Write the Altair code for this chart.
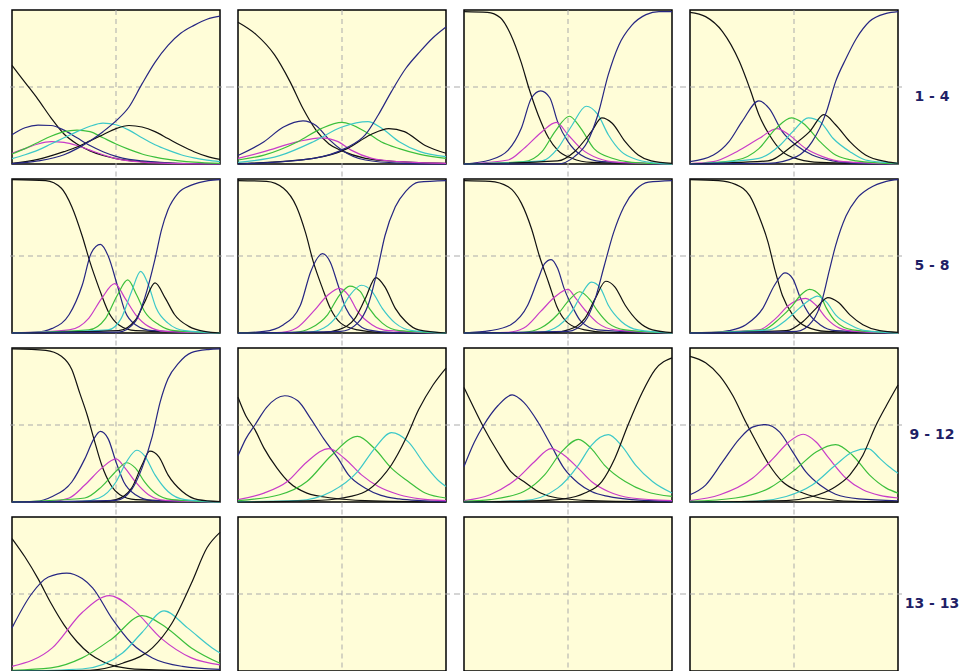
import altair as alt
import pandas as pd

# ---------------- data (theta in [-4, 4], probability in [0, 1]) ----------------
ITEM_01 = [
    ([-4, -3.5, -3, -2.5, -2, -1.5, -1, -0.5, 0, 1, 2, 4],
     [0.64, 0.53, 0.42, 0.30, 0.195, 0.13, 0.085, 0.055, 0.035, 0.015, 0.006, 0.0]),
    ([-4, -3.5, -3, -2.5, -2, -1.5, -1, -0.5, 0, 0.5, 1, 2, 4],
     [0.19, 0.235, 0.252, 0.25, 0.22, 0.17, 0.12, 0.08, 0.05, 0.03, 0.02, 0.008, 0.0]),
    ([-4, -3.5, -3, -2.5, -2, -1.5, -1, -0.5, 0, 0.5, 1, 2, 4],
     [0.07, 0.10, 0.13, 0.145, 0.14, 0.12, 0.09, 0.06, 0.035, 0.02, 0.012, 0.004, 0.0]),
    ([-4, -3.5, -3, -2.5, -2, -1.5, -1, -0.5, 0, 0.5, 1, 1.5, 2, 3, 4],
     [0.065, 0.10, 0.14, 0.18, 0.21, 0.22, 0.21, 0.17, 0.13, 0.095, 0.065, 0.045, 0.03, 0.012, 0.004]),
    ([-4, -3.5, -3, -2.5, -2, -1.5, -1, -0.5, 0, 0.5, 1, 1.5, 2, 2.5, 3, 3.5, 4],
     [0.035, 0.06, 0.09, 0.13, 0.17, 0.21, 0.245, 0.265, 0.255, 0.22, 0.17, 0.125, 0.09, 0.06, 0.04, 0.025, 0.015]),
    ([-4, -3, -2, -1.5, -1, -0.5, 0, 0.5, 1, 1.5, 2, 2.5, 3, 3.5, 4],
     [0.005, 0.03, 0.08, 0.11, 0.15, 0.19, 0.23, 0.25, 0.24, 0.21, 0.165, 0.12, 0.08, 0.05, 0.03]),
    ([-4, -3, -2, -1.5, -1, -0.5, 0, 0.5, 1, 1.5, 2, 2.5, 3, 3.5, 4],
     [0.003, 0.02, 0.06, 0.10, 0.15, 0.21, 0.28, 0.37, 0.52, 0.66, 0.77, 0.85, 0.90, 0.94, 0.96]),
]

ITEM_02 = [
    ([-4, -3.3, -2.6, -2, -1.5, -1, -0.5, 0, 0.9, 2.2, 4],
     [0.92, 0.84, 0.71, 0.535, 0.36, 0.22, 0.13, 0.085, 0.037, 0.015, 0.004]),
    ([-4, -3, -2.25, -1.5, -1, -0.5, 0, 0.9, 2.2, 4],
     [0.055, 0.145, 0.24, 0.28, 0.25, 0.16, 0.09, 0.026, 0.006, 0.0]),
    ([-4, -3, -1.7, -0.8, -0.15, 0.35, 1.15, 2.2, 4],
     [0.037, 0.08, 0.145, 0.17, 0.145, 0.09, 0.037, 0.015, 0.004]),
    ([-4, -3, -1.7, -0.8, 0, 0.9, 1.5, 2.2, 3, 4],
     [0.026, 0.058, 0.145, 0.23, 0.27, 0.21, 0.145, 0.10, 0.063, 0.037]),
    ([-4, -2.4, -1.1, 0, 1, 1.5, 2.2, 3, 4],
     [0.01, 0.054, 0.145, 0.24, 0.275, 0.235, 0.145, 0.08, 0.048]),
    ([-4, -1.1, 0.2, 1.1, 1.8, 2.4, 3.2, 4],
     [0.002, 0.037, 0.10, 0.19, 0.23, 0.21, 0.12, 0.07]),
    ([-4, -1.1, 0.1, 0.9, 1.4, 1.9, 2.45, 3, 3.5, 4],
     [0.0, 0.037, 0.10, 0.19, 0.32, 0.47, 0.62, 0.73, 0.82, 0.89]),
]

ITEM_03 = [
    ([-4, -3.1, -2.6, -2.2, -1.8, -1.5, -1.15, -0.75, -0.4, 0.15, 0.9, 4],
     [0.99, 0.985, 0.95, 0.84, 0.66, 0.49, 0.32, 0.17, 0.09, 0.037, 0.01, 0.0]),
    ([-4, -3, -2.3, -1.8, -1.4, -1.05, -0.7, -0.4, 0, 0.5, 1.3, 4],
     [0.0, 0.026, 0.09, 0.23, 0.43, 0.475, 0.43, 0.275, 0.145, 0.058, 0.015, 0.0]),
    ([-4, -2.3, -1.7, -1.0, -0.45, 0, 0.5, 1.15, 1.95, 4],
     [0.0, 0.026, 0.10, 0.21, 0.27, 0.19, 0.10, 0.037, 0.01, 0.0]),
    ([-4, -1.7, -1.0, -0.5, 0.05, 0.5, 1.0, 1.7, 2.45, 4],
     [0.0, 0.015, 0.08, 0.21, 0.31, 0.23, 0.10, 0.037, 0.01, 0.0]),
    ([-4, -1, -0.4, 0.15, 0.7, 1.15, 1.55, 2.05, 2.7, 3.5, 4],
     [0.0, 0.02, 0.10, 0.25, 0.375, 0.32, 0.19, 0.08, 0.026, 0.004, 0.0]),
    ([-4, -0.4, 0.25, 0.9, 1.3, 1.7, 2.2, 2.7, 3.2, 4],
     [0.0, 0.02, 0.08, 0.21, 0.30, 0.265, 0.145, 0.058, 0.02, 0.004]),
    ([-4, -0.4, 0.25, 0.75, 1.15, 1.55, 1.95, 2.45, 3, 3.5, 4],
     [0.0, 0.0, 0.048, 0.145, 0.32, 0.58, 0.77, 0.90, 0.97, 0.99, 0.99]),
]

ITEM_04 = [
    ([-4, -3.4, -2.75, -2.1, -1.7, -1.35, -0.95, -0.45, 0.2, 1, 4],
     [0.985, 0.957, 0.86, 0.665, 0.49, 0.32, 0.19, 0.08, 0.03, 0.01, 0.0]),
    ([-4, -3.1, -2.5, -2, -1.35, -0.95, -0.45, 0.1, 0.7, 1.5, 2.5, 4],
     [0.015, 0.058, 0.145, 0.275, 0.41, 0.36, 0.21, 0.12, 0.058, 0.02, 0.004, 0.0]),
    ([-4, -3.1, -2.2, -1.35, -0.65, -0.2, 0.45, 1.1, 1.9, 4],
     [0.002, 0.015, 0.08, 0.165, 0.23, 0.19, 0.10, 0.048, 0.015, 0.0]),
    ([-4, -2.2, -1.35, -0.7, -0.1, 0.35, 1, 1.6, 2.4, 4],
     [0.0, 0.026, 0.10, 0.23, 0.30, 0.265, 0.145, 0.058, 0.02, 0.0]),
    ([-4, -1.35, -0.55, -0.05, 0.55, 1, 1.5, 2.15, 2.75, 3.55, 4],
     [0.0, 0.037, 0.12, 0.21, 0.30, 0.275, 0.167, 0.08, 0.026, 0.01, 0.005]),
    ([-4, -1, -0.05, 0.6, 1.15, 1.6, 2.15, 2.75, 3.55, 4],
     [0.0, 0.02, 0.12, 0.21, 0.32, 0.255, 0.145, 0.058, 0.015, 0.005]),
    ([-4, -1, 0.1, 0.7, 1.25, 1.6, 2, 2.4, 2.9, 3.55, 4],
     [0.0, 0.004, 0.048, 0.145, 0.34, 0.535, 0.685, 0.815, 0.925, 0.978, 0.99]),
]

ITEM_05 = [
    ([-4, -2.7, -2.1, -1.7, -1.3, -1.0, -0.65, -0.3, 0.1, 0.75, 4],
     [0.996, 0.99, 0.94, 0.82, 0.63, 0.46, 0.29, 0.14, 0.054, 0.015, 0.0]),
    ([-4, -3.1, -2.45, -1.8, -1.3, -0.95, -0.6, -0.3, 0.05, 0.35, 0.75, 1.4, 4],
     [0.0, 0.004, 0.03, 0.12, 0.31, 0.52, 0.575, 0.50, 0.31, 0.14, 0.054, 0.015, 0.0]),
    ([-4, -1.8, -1.05, -0.55, -0.05, 0.35, 0.75, 1.25, 1.9, 4],
     [0.0, 0.02, 0.095, 0.225, 0.32, 0.225, 0.12, 0.043, 0.01, 0.0]),
    ([-4, -1.05, -0.4, 0.05, 0.45, 0.8, 1.1, 1.65, 2.25, 4],
     [0.0, 0.02, 0.095, 0.245, 0.345, 0.245, 0.14, 0.054, 0.015, 0.0]),
    ([-4, -0.3, 0.2, 0.6, 0.95, 1.25, 1.55, 2, 2.65, 4],
     [0.0, 0.02, 0.095, 0.27, 0.40, 0.31, 0.16, 0.064, 0.015, 0.0]),
    ([-4, 0.1, 0.75, 1.1, 1.5, 1.9, 2.25, 2.8, 3.4, 4],
     [0.0, 0.015, 0.085, 0.20, 0.325, 0.225, 0.12, 0.043, 0.01, 0.0]),
    ([-4, 0.1, 0.75, 1.1, 1.5, 1.75, 2, 2.4, 2.9, 3.55, 4],
     [0.0, 0.006, 0.075, 0.225, 0.48, 0.67, 0.80, 0.91, 0.96, 0.99, 0.996]),
]

ITEM_06 = [
    ([-4, -2.9, -2.25, -1.75, -1.4, -1.1, -0.75, -0.45, -0.05, 0.6, 1.5, 4],
     [0.99, 0.985, 0.94, 0.82, 0.65, 0.46, 0.29, 0.16, 0.064, 0.02, 0.004, 0.0]),
    ([-4, -3, -2.25, -1.6, -1.2, -0.75, -0.45, -0.15, 0.15, 0.5, 1, 2, 4],
     [0.0, 0.01, 0.054, 0.18, 0.40, 0.515, 0.46, 0.31, 0.16, 0.075, 0.02, 0.002, 0.0]),
    ([-4, -2.3, -1.75, -1.1, -0.55, -0.1, 0.25, 0.6, 1.15, 1.8, 4],
     [0.0, 0.005, 0.032, 0.14, 0.245, 0.29, 0.245, 0.14, 0.054, 0.015, 0.0]),
    ([-4, -1.8, -1.2, -0.55, -0.1, 0.3, 0.7, 1.05, 1.55, 2.2, 4],
     [0.0, 0.005, 0.032, 0.12, 0.245, 0.305, 0.27, 0.16, 0.064, 0.015, 0.0]),
    ([-4, -1.3, -0.7, -0.15, 0.3, 0.75, 1.15, 1.55, 2.05, 2.7, 4],
     [0.0, 0.005, 0.032, 0.12, 0.245, 0.31, 0.27, 0.16, 0.064, 0.015, 0.0]),
    ([-4, -0.7, -0.15, 0.5, 0.9, 1.3, 1.65, 2.05, 2.45, 2.95, 4],
     [0.0, 0.004, 0.02, 0.095, 0.225, 0.36, 0.30, 0.16, 0.075, 0.02, 0.0]),
    ([-4, -0.05, 0.6, 1, 1.35, 1.65, 2.05, 2.45, 2.95, 4],
     [0.0, 0.01, 0.064, 0.18, 0.40, 0.63, 0.82, 0.92, 0.98, 0.99]),
]

ITEM_07 = [
    ([-4, -3, -2.3, -1.8, -1.4, -1.1, -0.75, -0.4, 0, 0.65, 1.5, 4],
     [0.99, 0.985, 0.95, 0.845, 0.675, 0.50, 0.33, 0.16, 0.064, 0.02, 0.004, 0.0]),
    ([-4, -3, -2.2, -1.55, -1.15, -0.9, -0.65, -0.4, -0.15, 0.2, 0.5, 1.15, 4],
     [0.0, 0.015, 0.054, 0.18, 0.35, 0.45, 0.477, 0.42, 0.29, 0.16, 0.075, 0.02, 0.0]),
    ([-4, -2.3, -1.7, -1.05, -0.5, 0, 0.3, 0.7, 1.15, 1.8, 4],
     [0.0, 0.005, 0.032, 0.14, 0.235, 0.283, 0.225, 0.14, 0.064, 0.02, 0.0]),
    ([-4, -1.7, -1.05, -0.4, 0.05, 0.45, 0.85, 1.15, 1.55, 2.2, 4],
     [0.0, 0.005, 0.032, 0.12, 0.215, 0.268, 0.215, 0.14, 0.064, 0.02, 0.0]),
    ([-4, -1.1, -0.5, 0.15, 0.5, 0.9, 1.25, 1.55, 2.05, 2.7, 4],
     [0.0, 0.004, 0.032, 0.14, 0.245, 0.33, 0.29, 0.18, 0.075, 0.02, 0.0]),
    ([-4, -0.5, 0, 0.65, 1.05, 1.45, 1.8, 2.2, 2.7, 3.25, 4],
     [0.0, 0.004, 0.02, 0.095, 0.225, 0.336, 0.30, 0.18, 0.075, 0.02, 0.002]),
    ([-4, 0, 0.65, 1.05, 1.4, 1.75, 2.15, 2.6, 3.1, 4],
     [0.0, 0.01, 0.075, 0.225, 0.44, 0.65, 0.82, 0.93, 0.98, 0.99]),
]

ITEM_08 = [
    ([-4, -2.9, -2.25, -1.7, -1.35, -1.0, -0.75, -0.45, -0.05, 0.45, 1.25, 4],
     [0.996, 0.99, 0.965, 0.89, 0.76, 0.59, 0.42, 0.245, 0.118, 0.043, 0.01, 0.0]),
    ([-4, -3, -2.5, -1.85, -1.2, -0.75, -0.35, -0.05, 0.25, 0.6, 1, 1.6, 4],
     [0.0, 0.004, 0.015, 0.054, 0.16, 0.31, 0.39, 0.353, 0.225, 0.118, 0.054, 0.015, 0.0]),
    ([-4, -1.35, -0.7, -0.2, 0.45, 0.85, 1.25, 1.75, 2.4, 4],
     [0.0, 0.02, 0.095, 0.18, 0.225, 0.18, 0.095, 0.032, 0.01, 0.0]),
    ([-4, -1.2, -0.55, -0.05, 0.25, 0.6, 1, 1.25, 1.6, 2.25, 4],
     [0.0, 0.02, 0.095, 0.18, 0.245, 0.283, 0.245, 0.16, 0.075, 0.02, 0.0]),
    ([-4, -0.95, -0.3, 0.2, 0.6, 0.9, 1.25, 1.6, 2.15, 2.75, 4],
     [0.0, 0.02, 0.085, 0.16, 0.215, 0.24, 0.20, 0.118, 0.054, 0.015, 0.0]),
    ([-4, -0.3, 0.35, 0.85, 1.3, 1.7, 2.15, 2.65, 3.3, 4],
     [0.0, 0.015, 0.075, 0.16, 0.23, 0.20, 0.118, 0.054, 0.015, 0.004]),
    ([-4, 0.1, 0.7, 1.1, 1.35, 1.6, 2, 2.4, 2.9, 3.55, 4],
     [0.0, 0.01, 0.075, 0.225, 0.40, 0.567, 0.76, 0.87, 0.94, 0.985, 0.996]),
]

ITEM_09 = [
    ([-4, -2.7, -2.1, -1.7, -1.4, -1.1, -0.85, -0.55, -0.2, 0.15, 0.75, 4],
     [0.994, 0.985, 0.946, 0.86, 0.71, 0.56, 0.41, 0.24, 0.11, 0.047, 0.015, 0.0]),
    ([-4, -3.1, -2.45, -1.7, -1.2, -0.85, -0.6, -0.3, 0, 0.3, 0.75, 1.4, 4],
     [0.0, 0.004, 0.036, 0.13, 0.28, 0.41, 0.458, 0.41, 0.26, 0.13, 0.047, 0.01, 0.0]),
    ([-4, -2.5, -1.8, -1.2, -0.55, 0, 0.35, 0.75, 1.25, 1.9, 4],
     [0.0, 0.004, 0.026, 0.11, 0.22, 0.28, 0.22, 0.13, 0.047, 0.01, 0.0]),
    ([-4, -1.2, -0.55, 0.05, 0.4, 0.75, 1.1, 1.5, 2.15, 4],
     [0.0, 0.026, 0.10, 0.208, 0.255, 0.22, 0.13, 0.058, 0.015, 0.0]),
    ([-4, -1.3, -0.65, 0, 0.4, 0.8, 1.1, 1.5, 2, 2.65, 4],
     [0.0, 0.004, 0.026, 0.13, 0.26, 0.336, 0.30, 0.176, 0.068, 0.015, 0.0]),
    ([-4, -0.5, 0, 0.6, 1, 1.3, 1.65, 2, 2.55, 3.15, 4],
     [0.0, 0.004, 0.015, 0.09, 0.24, 0.33, 0.293, 0.176, 0.068, 0.015, 0.002]),
    ([-4, 0, 0.6, 1, 1.4, 1.7, 2, 2.4, 2.9, 3.55, 4],
     [0.0, 0.01, 0.08, 0.22, 0.43, 0.65, 0.80, 0.90, 0.97, 0.99, 0.994]),
]

ITEM_10 = [
    ([-4, -3.7, -3.35, -3, -2.5, -2.05, -1.35, -0.4, 0.9, 4],
     [0.68, 0.56, 0.47, 0.35, 0.22, 0.13, 0.058, 0.026, 0.009, 0.0]),
    ([-4, -3.7, -3.35, -2.9, -2.2, -1.7, -1.2, -0.7, -0.15, 0.25, 0.9, 1.5, 2.2, 3, 4],
     [0.30, 0.41, 0.50, 0.615, 0.69, 0.657, 0.54, 0.41, 0.283, 0.176, 0.09, 0.043, 0.02, 0.009, 0.004]),
    ([-4, -3, -2.1, -1.35, -0.5, 0.1, 0.75, 1.4, 2.2, 3, 4],
     [0.015, 0.058, 0.133, 0.26, 0.347, 0.283, 0.176, 0.10, 0.047, 0.02, 0.009]),
    ([-4, -2.4, -1.35, -0.4, 0.6, 1.25, 1.9, 2.55, 3.2, 4],
     [0.009, 0.047, 0.133, 0.304, 0.426, 0.347, 0.22, 0.133, 0.058, 0.026]),
    ([-4, -1.7, -0.4, 0.6, 1.25, 1.9, 2.55, 3.2, 3.75, 4],
     [0.002, 0.009, 0.068, 0.197, 0.347, 0.45, 0.39, 0.24, 0.133, 0.10]),
    ([-4, -1.1, 0, 0.9, 1.5, 1.9, 2.45, 2.95, 3.5, 4],
     [0.0, 0.009, 0.026, 0.068, 0.154, 0.24, 0.41, 0.60, 0.76, 0.87]),
]

ITEM_11 = [
    ([-4, -3.6, -3.25, -2.7, -2.2, -1.7, -1.05, -0.4, 0.9, 4],
     [0.743, 0.604, 0.486, 0.325, 0.197, 0.133, 0.058, 0.026, 0.009, 0.0]),
    ([-4, -3.6, -3.25, -2.7, -2.15, -1.7, -1.15, -0.65, -0.15, 0.4, 0.9, 1.55, 2.45, 4],
     [0.23, 0.39, 0.497, 0.625, 0.696, 0.647, 0.518, 0.368, 0.218, 0.122, 0.068, 0.036, 0.015, 0.004]),
    ([-4, -3, -1.95, -1.3, -0.65, -0.15, 0.4, 0.9, 1.55, 2.45, 4],
     [0.009, 0.047, 0.154, 0.26, 0.347, 0.304, 0.218, 0.133, 0.068, 0.026, 0.009]),
    ([-4, -3, -1.7, -0.9, -0.25, 0.4, 0.9, 1.4, 2.2, 3, 4],
     [0.004, 0.015, 0.068, 0.176, 0.325, 0.407, 0.347, 0.24, 0.133, 0.068, 0.036]),
    ([-4, -1.7, -0.4, 0.4, 0.9, 1.55, 2.05, 2.6, 3.25, 4],
     [0.0, 0.009, 0.09, 0.24, 0.368, 0.437, 0.368, 0.24, 0.133, 0.058]),
    ([-4, -1.05, -0.15, 0.65, 1.3, 1.8, 2.3, 2.85, 3.35, 4],
     [0.0, 0.009, 0.02, 0.058, 0.133, 0.283, 0.497, 0.71, 0.86, 0.936]),
]

ITEM_12 = [
    ([-4, -3.4, -2.85, -2.35, -1.85, -1.45, -0.95, -0.45, 0.2, 1, 2.25, 4],
     [0.946, 0.904, 0.818, 0.69, 0.518, 0.39, 0.24, 0.133, 0.068, 0.026, 0.004, 0.0]),
    ([-4, -3.4, -2.75, -2.1, -1.6, -1.1, -0.55, -0.05, 0.45, 1, 1.6, 2.5, 4],
     [0.047, 0.11, 0.26, 0.41, 0.486, 0.503, 0.454, 0.325, 0.197, 0.11, 0.05, 0.02, 0.008]),
    ([-4, -2.85, -1.6, -0.8, -0.2, 0.35, 0.85, 1.35, 2, 2.65, 3.3, 4],
     [0.009, 0.047, 0.154, 0.283, 0.39, 0.44, 0.39, 0.283, 0.154, 0.079, 0.043, 0.026]),
    ([-4, -2.25, -0.95, 0.1, 0.85, 1.6, 2.25, 2.9, 3.55, 4],
     [0.004, 0.026, 0.09, 0.218, 0.325, 0.373, 0.304, 0.176, 0.09, 0.058]),
    ([-4, -1.6, -0.3, 0.7, 1.6, 2.25, 2.85, 3.3, 3.65, 4],
     [0.0, 0.004, 0.036, 0.11, 0.24, 0.325, 0.347, 0.283, 0.23, 0.186]),
    ([-4, -0.3, 0.7, 1.5, 2.15, 2.65, 3.15, 3.55, 4],
     [0.0, 0.009, 0.036, 0.09, 0.176, 0.304, 0.497, 0.625, 0.76]),
]

ITEM_13 = [
    ([-4, -3.5, -3, -2.5, -2, -1.5, -1, -0.5, 0, 1, 4],
     [0.86, 0.74, 0.60, 0.44, 0.30, 0.19, 0.11, 0.06, 0.03, 0.01, 0.0]),
    ([-4, -3.25, -2.6, -1.9, -1.3, -0.9, -0.15, 0.6, 1.4, 2.55, 4],
     [0.28, 0.50, 0.61, 0.636, 0.60, 0.54, 0.34, 0.18, 0.085, 0.03, 0.01]),
    ([-4, -2.45, -1.3, -0.25, 0.6, 1.75, 2.9, 4],
     [0.03, 0.15, 0.38, 0.49, 0.41, 0.21, 0.085, 0.04]),
    ([-4, -2.5, -1.3, -0.15, 1, 1.95, 2.9, 4],
     [0.005, 0.02, 0.085, 0.21, 0.36, 0.28, 0.15, 0.05]),
    ([-4, -1.3, 0.25, 1, 1.85, 2.75, 3.7, 4],
     [0.0, 0.013, 0.117, 0.25, 0.39, 0.28, 0.15, 0.117]),
    ([-4, -1, 0.25, 1.4, 2.15, 2.9, 3.5, 4],
     [0.0, 0.005, 0.05, 0.15, 0.31, 0.57, 0.80, 0.90]),
]

ITEMS = [ITEM_01, ITEM_02, ITEM_03, ITEM_04, ITEM_05, ITEM_06, ITEM_07,
         ITEM_08, ITEM_09, ITEM_10, ITEM_11, ITEM_12, ITEM_13]
ROW_LABELS = ["1 - 4", "5 - 8", "9 - 12", "13 - 13"]

CURVE_IDS_7 = ["k0", "n1", "m2", "g3", "c4", "k5", "n6"]
CURVE_IDS_6 = ["k0", "n1", "m2", "g3", "c4", "k5"]
CURVE_COLORS = ["#111111", "#262682", "#c83cc8", "#3cbf3c", "#3cc8c8", "#111111", "#262682"]

# ---------------- styling ----------------
W, H = 208, 154
GAP_X, GAP_Y = 18, 15
BG = "#FFFDD8"
GRID = "#ababab"
LABEL_COLOR = "#1f1f66"


def panel(idx):
    row, col = divmod(idx, 4)
    ext_l = 2 if col == 0 else GAP_X / 2
    ext_r = 8 if col == 3 else GAP_X / 2
    ext_t = 0 if row == 0 else GAP_Y / 2
    ext_b = 2 if row == 3 else GAP_Y / 2
    xs = alt.Scale(domain=[-4, 4], nice=False, zero=False)
    ys = alt.Scale(domain=[0, 1], nice=False)

    gh = alt.Chart(pd.DataFrame({"gy": [0.5]})).mark_rule(
        color=GRID, strokeDash=[5, 4], strokeWidth=1
    ).encode(
        y=alt.Y("gy:Q", scale=ys, axis=None),
        x=alt.value(-ext_l),
        x2=alt.value(W + ext_r),
    )
    gv = alt.Chart(pd.DataFrame({"gx": [0.0]})).mark_rule(
        color=GRID, strokeDash=[5, 4], strokeWidth=1
    ).encode(
        x=alt.X("gx:Q", scale=xs, axis=None),
        y=alt.value(-ext_t),
        y2=alt.value(H + ext_b),
    )
    layers = [gh, gv]

    if idx < len(ITEMS):
        curves = ITEMS[idx]
        ids = CURVE_IDS_7 if len(curves) == 7 else CURVE_IDS_6
        recs = []
        for cid, (xv, yv) in zip(ids, curves):
            for a, b in zip(xv, yv):
                recs.append({"x": a, "y": b, "curve": cid})
        df = pd.DataFrame(recs)
        lines = alt.Chart(df).mark_line(
            interpolate="monotone", strokeWidth=1.2
        ).encode(
            x=alt.X("x:Q", scale=xs, axis=None),
            y=alt.Y("y:Q", scale=ys, axis=None),
            color=alt.Color(
                "curve:N",
                scale=alt.Scale(domain=CURVE_IDS_7, range=CURVE_COLORS),
                legend=None,
            ),
        )
        layers.append(lines)

    if col == 3:
        lab = alt.Chart(pd.DataFrame({"t": [ROW_LABELS[row]]})).mark_text(
            align="center", baseline="middle", font="DejaVu Sans",
            fontSize=14, fontWeight="bold", color=LABEL_COLOR
        ).encode(
            text="t:N",
            x=alt.value(W + 34),
            y=alt.value(H / 2 + 10),
        )
        layers.append(lab)

    return alt.layer(*layers).properties(width=W, height=H)


panels = [panel(i) for i in range(16)]

chart = alt.concat(
    *panels,
    columns=4,
    spacing={"row": GAP_Y, "column": GAP_X},
    bounds="flush",
).properties(
    padding={"left": 0, "top": 0, "right": 2, "bottom": 0},
    background="white",
).configure_view(
    fill=BG, stroke="#000000", strokeWidth=1.5
)

chart.save("out.html", embed_options={"renderer": "svg", "actions": False})
